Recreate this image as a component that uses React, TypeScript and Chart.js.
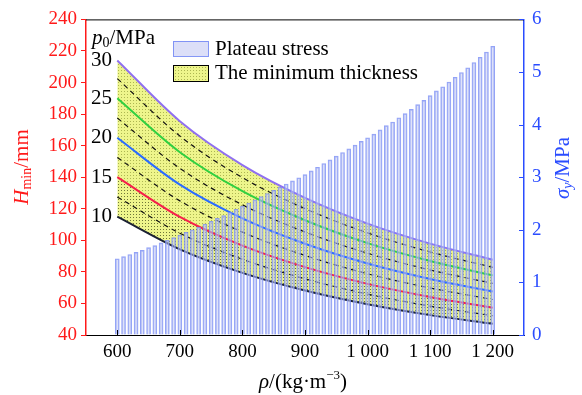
import React, { useEffect, useRef } from "react";
import { Chart, registerables } from "chart.js";

Chart.register(...registerables);

// ---- data ----
const densityPoints = [600, 700, 800, 900, 1000, 1100, 1200];
const hP10 = [115, 94.3, 79.4, 68.2, 59.5, 52.6, 47.1];
const hP12_5 = [127.5, 104.5, 88.0, 75.6, 65.9, 58.3, 52.2];
const hP15 = [140, 114.8, 96.6, 83.0, 72.4, 64.1, 57.3];
const hP17_5 = [152.5, 125.0, 105.2, 90.4, 78.8, 69.8, 62.5];
const hP20 = [165, 135.3, 113.9, 97.8, 85.3, 75.5, 67.6];
const hP22_5 = [177.5, 145.6, 122.5, 105.3, 91.8, 81.2, 72.7];
const hP25 = [190, 155.8, 131.1, 112.7, 98.2, 86.9, 77.8];
const hP27_5 = [202.5, 166.1, 139.7, 120.1, 104.7, 92.6, 82.9];
const hP30 = [214, 175.5, 147.7, 126.9, 110.6, 97.9, 87.7];

const barDensities = [
  600, 610, 620, 630, 640, 650, 660, 670, 680, 690,
  700, 710, 720, 730, 740, 750, 760, 770, 780, 790,
  800, 810, 820, 830, 840, 850, 860, 870, 880, 890,
  900, 910, 920, 930, 940, 950, 960, 970, 980, 990,
  1000, 1010, 1020, 1030, 1040, 1050, 1060, 1070, 1080, 1090,
  1100, 1110, 1120, 1130, 1140, 1150, 1160, 1170, 1180, 1190,
  1200,
];
const plateauStress = [
  1.45, 1.49, 1.53, 1.57, 1.61, 1.66, 1.70, 1.75, 1.80, 1.85,
  1.90, 1.95, 2.00, 2.05, 2.11, 2.16, 2.22, 2.27, 2.33, 2.39,
  2.45, 2.51, 2.57, 2.63, 2.69, 2.75, 2.81, 2.87, 2.93, 2.99,
  3.05, 3.12, 3.19, 3.26, 3.33, 3.40, 3.47, 3.54, 3.61, 3.68,
  3.75, 3.82, 3.90, 3.98, 4.05, 4.13, 4.21, 4.29, 4.38, 4.46,
  4.55, 4.64, 4.72, 4.81, 4.90, 4.99, 5.08, 5.18, 5.28, 5.38,
  5.49,
];

const xTickValues = [600, 700, 800, 900, 1000, 1100, 1200];
const xTickLabels = ["600", "700", "800", "900", "1 000", "1 100", "1 200"];
const p0Labels = ["10", "15", "20", "25", "30"];
const p0LabelStarts = [hP10[0], hP15[0], hP20[0], hP25[0], hP30[0]];

const SERIF = '"Liberation Serif", "Times New Roman", serif';
const RED = "#ff1a1a";
const BLUE = "#2a4cff";

Chart.defaults.font.family = SERIF;

function makePattern(base: string, dot: string) {
  const c = document.createElement("canvas");
  c.width = 3;
  c.height = 3;
  const g = c.getContext("2d")!;
  if (base !== "transparent") {
    g.fillStyle = base;
    g.fillRect(0, 0, 3, 3);
  }
  g.fillStyle = dot;
  g.fillRect(1, 1, 1, 1);
  const main = document.createElement("canvas").getContext("2d")!;
  return main.createPattern(c, "repeat")!;
}

type Seg = { t: string; font: string; dy?: number };

function drawRich(ctx: CanvasRenderingContext2D, segs: Seg[], cx: number, cy: number, color: string) {
  let total = 0;
  const widths = segs.map((s) => {
    ctx.font = s.font;
    const w = ctx.measureText(s.t).width;
    total += w;
    return w;
  });
  let x = cx - total / 2;
  ctx.fillStyle = color;
  ctx.textBaseline = "middle";
  ctx.textAlign = "left";
  segs.forEach((s, i) => {
    ctx.font = s.font;
    ctx.fillText(s.t, x, cy + (s.dy || 0));
    x += widths[i];
  });
}

export default function App() {
  const ref = useRef<HTMLCanvasElement | null>(null);

  useEffect(() => {
    const canvas = ref.current!;
    const lightPattern = makePattern("rgb(238,245,140)", "rgba(165,175,75,0.9)");
    const darkPattern = makePattern("transparent", "rgba(70,75,40,0.6)");

    const line = (data: number[], color: string, dashed: boolean, extra: any = {}) => ({
      type: "line",
      data: densityPoints.map((x, i) => ({ x, y: data[i] })),
      yAxisID: "y",
      borderColor: color,
      borderWidth: dashed ? 1.2 : 2,
      borderDash: dashed ? [5, 4] : [],
      pointRadius: 0,
      cubicInterpolationMode: "monotone",
      fill: false,
      order: 1,
      ...extra,
    });

    const extras = {
      id: "extras",
      afterDatasetsDraw(chart: any) {
        const { ctx, chartArea: a, scales } = chart;
        const xs = scales.x;
        const ys = scales.y;
        const y1 = scales.y1;
        ctx.save();
        ctx.strokeStyle = "#000";
        ctx.lineWidth = 1;
        ctx.beginPath();
        ctx.moveTo(a.left, a.top + 0.5);
        ctx.lineTo(a.right, a.top + 0.5);
        ctx.stroke();
        xTickValues.forEach((v) => {
          const px = Math.round(xs.getPixelForValue(v)) + 0.5;
          ctx.beginPath();
          ctx.moveTo(px, a.bottom);
          ctx.lineTo(px, a.bottom - 5);
          ctx.stroke();
        });
        ctx.strokeStyle = BLUE;
        for (let v = 0; v <= 6; v++) {
          const py = Math.round(y1.getPixelForValue(v)) + 0.5;
          ctx.beginPath();
          ctx.moveTo(a.right - 5, py);
          ctx.lineTo(a.right, py);
          ctx.stroke();
        }
        ctx.fillStyle = "#000";
        ctx.textBaseline = "middle";
        ctx.textAlign = "left";
        ctx.font = `21px ${SERIF}`;
        p0Labels.forEach((t, i) => {
          ctx.fillText(t, 91, ys.getPixelForValue(p0LabelStarts[i]));
        });
        let hx = 92;
        const hy = 38;
        ctx.font = `italic 21px ${SERIF}`;
        ctx.fillText("p", hx, hy);
        hx += ctx.measureText("p").width;
        ctx.font = `14px ${SERIF}`;
        ctx.fillText("0", hx, hy + 5);
        hx += ctx.measureText("0").width;
        ctx.font = `21px ${SERIF}`;
        ctx.fillText("/MPa", hx, hy);

        ctx.fillStyle = "rgba(205,210,245,0.7)";
        ctx.fillRect(173, 41, 35, 15);
        ctx.strokeStyle = "rgba(120,140,245,0.9)";
        ctx.lineWidth = 1;
        ctx.strokeRect(173.5, 41.5, 35, 15);
        ctx.fillStyle = lightPattern;
        ctx.fillRect(173, 65, 35, 16);
        ctx.strokeStyle = "#000";
        ctx.strokeRect(173.5, 65.5, 35, 16);
        ctx.fillStyle = "#000";
        ctx.font = `21px ${SERIF}`;
        ctx.fillText("Plateau stress", 215, 49);
        ctx.fillText("The minimum thickness", 215, 73);
        ctx.restore();
      },
      afterDraw(chart: any) {
        const { ctx } = chart;
        ctx.save();
        ctx.translate(22, 167);
        ctx.rotate(-Math.PI / 2);
        drawRich(
          ctx,
          [
            { t: "H", font: `italic 21px ${SERIF}` },
            { t: "min", font: `14px ${SERIF}`, dy: 5 },
            { t: "/mm", font: `21px ${SERIF}` },
          ],
          0,
          0,
          RED
        );
        ctx.restore();
        ctx.save();
        ctx.translate(563, 168);
        ctx.rotate(-Math.PI / 2);
        drawRich(
          ctx,
          [
            { t: "σ", font: `italic 21px ${SERIF}` },
            { t: "y", font: `italic 14px ${SERIF}`, dy: 5 },
            { t: "/MPa", font: `21px ${SERIF}` },
          ],
          0,
          0,
          BLUE
        );
        ctx.restore();
        ctx.save();
        drawRich(
          ctx,
          [
            { t: "ρ", font: `italic 21px ${SERIF}` },
            { t: "/(kg·m", font: `21px ${SERIF}` },
            { t: "−3", font: `13px ${SERIF}`, dy: -6 },
            { t: ")", font: `21px ${SERIF}` },
          ],
          303,
          382,
          "#000"
        );
        ctx.restore();
      },
    };

    const tickFont = { family: SERIF, size: 19, style: "normal", weight: "normal" };

    const chart = new Chart(canvas, {
      data: {
        datasets: [
          {
            type: "bar",
            label: "Plateau stress",
            data: barDensities.map((x, i) => ({ x, y: plateauStress[i] })),
            yAxisID: "y1",
            backgroundColor: "rgba(192,200,244,0.5)",
            borderColor: "rgba(120,140,245,0.8)",
            borderWidth: 1,
            barThickness: 4,
            order: 0,
          } as any,
          line(hP10, "#1b2133", false),
          line(hP12_5, "#111", true),
          line(hP15, "#f5204a", false, { fill: 1, backgroundColor: darkPattern, order: 19 }),
          line(hP17_5, "#111", true),
          line(hP20, "#2a6cff", false),
          line(hP22_5, "#111", true),
          line(hP25, "#30d040", false),
          line(hP27_5, "#111", true),
          line(hP30, "#9070f0", false, { fill: 1, backgroundColor: lightPattern, order: 20 }),
        ] as any,
      },
      options: {
        responsive: false,
        animation: false,
        devicePixelRatio: 1,
        font: { family: SERIF },
        layout: { padding: { top: 17, left: 0, right: 0, bottom: 0 } },
        plugins: {
          legend: { display: false },
          tooltip: { enabled: false },
          title: { display: false },
        },
        scales: {
          x: {
            type: "linear",
            offset: false,
            min: 550,
            max: 1250,
            afterBuildTicks: (s: any) => {
              s.ticks = xTickValues.map((v) => ({ value: v }));
            },
            ticks: {
              color: "#000",
              font: tickFont,
              padding: 6,
              maxRotation: 0,
              callback: (v: any) => {
                const i = xTickValues.indexOf(Number(v));
                return i >= 0 ? xTickLabels[i] : "";
              },
            },
            grid: { drawOnChartArea: false, drawTicks: false, offset: false },
            border: { color: "#000", width: 1 },
            afterFit: (s: any) => {
              s.height = 60;
            },
          },
          y: {
            type: "linear",
            position: "left",
            min: 40,
            max: 240,
            ticks: {
              stepSize: 20,
              color: RED,
              font: tickFont,
              padding: 4,
            },
            grid: { drawOnChartArea: false, tickLength: 5, color: RED },
            border: { color: RED, width: 1.5 },
            afterFit: (s: any) => {
              s.width = 86;
            },
          },
          y1: {
            type: "linear",
            position: "right",
            min: 0,
            max: 6,
            ticks: {
              stepSize: 1,
              color: BLUE,
              font: tickFont,
              padding: 8,
            },
            grid: { drawOnChartArea: false, drawTicks: false },
            border: { color: BLUE, width: 1.5 },
            afterFit: (s: any) => {
              s.width = 58;
            },
          },
        },
      } as any,
      plugins: [extras],
    });
    let alive = true;
    const redraw = () => {
      if (alive) chart.update();
    };
    if ((document as any).fonts && (document as any).fonts.load) {
      Promise.all([
        (document as any).fonts.load('19px "Liberation Serif"'),
        (document as any).fonts.load('italic 21px "Liberation Serif"'),
      ]).then(redraw, redraw);
    }
    const t = setTimeout(redraw, 50);
    return () => {
      alive = false;
      clearTimeout(t);
      chart.destroy();
    };
  }, []);

  return (
    <canvas
      ref={ref}
      width={582}
      height={395}
      style={{ position: "absolute", left: 0, top: 0, width: 582, height: 395 }}
    />
  );
}
